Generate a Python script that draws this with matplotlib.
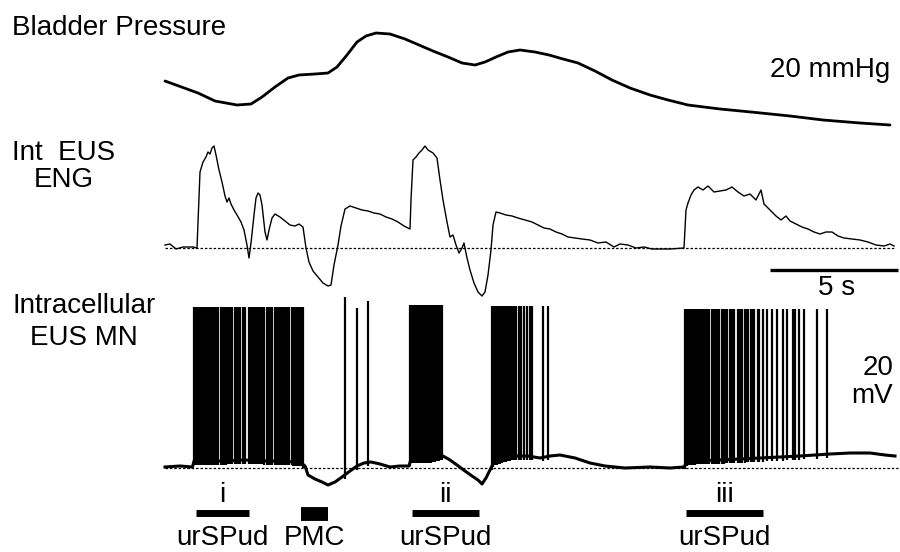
import matplotlib
matplotlib.use("Agg")
import matplotlib.pyplot as plt
import numpy as np
from matplotlib.transforms import blended_transform_factory

plt.rcParams['font.family'] = ['Liberation Sans', 'DejaVu Sans']

# ---- data (time in s) ----
bladder_t = [0, 1.32, 2.0, 2.88, 3.44, 3.88, 4.4, 4.92, 5.36, 6.0, 6.52, 6.88, 7.28, 7.68,
             8.04, 8.44, 9.0, 9.6, 10.16, 10.72, 11.32, 11.88, 12.4, 12.8, 13.24, 13.72,
             14.2, 14.8, 15.36, 15.92, 16.52, 17.2, 17.88, 18.6, 19.4, 20.12, 20.92, 22.2,
             23.44, 25.0, 26.32, 27.8, 29.0]
bladder_p = [22.6, 17.8, 14.6, 13.0, 13.4, 16.2, 20.2, 23.8, 25.0, 25.4, 25.8, 28.2, 33.0,
             38.2, 40.6, 41.8, 41.4, 39.4, 37.0, 34.6, 32.2, 29.8, 29.0, 30.2, 32.2, 34.2,
             35.0, 34.2, 33.0, 31.4, 29.8, 26.6, 23.0, 19.8, 17.0, 15.0, 13.0, 11.4,
             10.2, 8.6, 7.0, 5.8, 5.0]

eng_t = [0, 0.2, 0.44, 0.72, 1.12, 1.28, 1.4, 1.52, 1.64, 1.72, 1.8, 1.88, 1.96, 2.04, 2.16,
         2.28, 2.4, 2.48, 2.56, 2.64, 2.76, 2.88, 3.04, 3.16, 3.28, 3.36, 3.44, 3.56, 3.64,
         3.72, 3.8, 3.88, 4.0, 4.08, 4.16, 4.28, 4.4, 4.6, 4.8, 5.0, 5.2, 5.36, 5.52, 5.64,
         5.76, 5.92, 6.12, 6.32, 6.52, 6.64, 6.76, 6.92, 7.04, 7.2, 7.4, 7.64, 7.88, 8.12,
         8.36, 8.6, 8.84, 9.08, 9.32, 9.56, 9.8, 9.84, 9.92, 10.04, 10.16, 10.28, 10.4,
         10.52, 10.72, 10.88, 11.0, 11.12, 11.28, 11.4, 11.52, 11.64, 11.76, 11.88, 11.96,
         12.08, 12.2, 12.36, 12.52, 12.68, 12.8, 12.92, 13.04, 13.12, 13.24, 13.4, 13.64,
         13.88, 14.12, 14.4, 14.68, 14.92, 15.16, 15.4, 15.64, 15.88, 16.12, 16.4, 16.68,
         17.0, 17.32, 17.64, 17.96, 18.2, 18.52, 18.84, 19.16, 19.48, 19.8, 20.2, 20.76,
         20.84, 20.92, 21.04, 21.16, 21.32, 21.52, 21.72, 21.96, 22.2, 22.44, 22.68, 22.92,
         23.16, 23.4, 23.64, 23.84, 23.96, 24.2, 24.44, 24.64, 24.84, 25.0, 25.24, 25.48,
         25.72, 25.96, 26.2, 26.44, 26.68, 26.92, 27.16, 27.48, 27.8, 28.12, 28.44, 28.76,
         29.0, 29.16]
eng_v = [3, 4, -1, 1, 1, 0, 76, 86, 91, 96, 94, 100, 102, 93, 78,
         66, 52, 46, 50, 44, 38, 33, 26, 18, 3, -10, 5, 33, 50,
         55, 53, 43, 16, 8, 18, 30, 34, 31, 27, 23, 22, 24, 21, 0,
         -14, -23, -29, -35, -38, -37, -17, 3, 22, 39, 42, 40, 38, 37,
         35, 34, 31, 29, 26, 22, 19, 48, 88, 91, 95, 98, 102,
         98, 95, 90, 68, 48, 26, 11, 13, 3, -5, 0, 5,
         -10, -22, -35, -44, -48, -44, -27, -2, 23, 36, 35, 33,
         32, 30, 28, 26, 23, 20, 19, 16, 14, 11, 10, 9,
         8, 5, 6, 1, 4, 3, 0, 1, -1, -1, -1, 0,
         38, 45, 53, 58, 61, 58, 62, 56, 57, 58, 61, 56,
         52, 54, 48, 58, 44, 38, 32, 28, 32, 27, 24, 21,
         19, 16, 14, 16, 16, 12, 10, 9, 8, 6, 3, 2,
         4, 2]

vm_t = [0, 0.6, 1.1, 1.16, 2.2, 3.2, 4.2, 5.4, 5.6, 5.72, 6.0, 6.28, 6.52, 6.8, 7.08, 7.4,
        7.68, 7.96, 8.24, 8.6, 9.0, 9.4, 9.76, 9.84, 10.6, 11.12, 11.4, 11.68, 12.0, 12.28,
        12.52, 12.68, 12.84, 13.0, 13.16, 13.6, 14.0, 14.52, 15.0, 15.4, 15.8, 16.4, 17.0,
        17.6, 18.4, 19.4, 20.2, 20.76, 20.9, 22.2, 23.8, 25.4, 26.6, 27.4, 28.2, 28.8, 29.2]
vm_v = [-64.6, -64.2, -64.6, -62.2, -62.2, -61.8, -62.2, -62.6, -64.2, -67.8, -69.4, -70.6,
        -71.8, -70.6, -68.6, -66.2, -64.2, -63.0, -62.6, -63.4, -64.6, -64.2, -64.2, -61.4,
        -61.4, -60.2, -61.8, -63.8, -66.2, -68.2, -69.8, -71.4, -69.0, -65.8, -62.6, -61.0,
        -60.2, -60.2, -61.0, -60.2, -59.8, -61.0, -63.0, -64.2, -65.0, -64.6, -65.0, -64.6,
        -62.2, -61.8, -61.0, -60.2, -59.4, -59.0, -59.0, -59.8, -60.2]
vm_rest = -65.0

# spike times (s) and peak potentials (mV)
spikes_i = [1.16, 1.22, 1.27, 1.33, 1.38, 1.44, 1.49, 1.55, 1.60, 1.66, 1.71, 1.77, 1.82,
            1.88, 1.93, 1.99, 2.04, 2.10, 2.22, 2.27, 2.33, 2.38, 2.44, 2.49, 2.55, 2.60,
            2.66, 2.78, 2.84, 2.89, 2.95, 3.01, 3.13, 3.19, 3.34, 3.40, 3.45, 3.51, 3.56,
            3.62, 3.67, 3.73, 3.78, 3.84, 3.89, 3.95, 4.07, 4.12, 4.18, 4.23, 4.29, 4.40,
            4.46, 4.51, 4.57, 4.62, 4.68, 4.73, 4.79, 4.84, 4.90, 4.95, 5.07, 5.12, 5.18,
            5.24, 5.30, 5.36, 5.43, 5.50]
spikes_pmc = [7.2, 7.68, 8.12]
spikes_pmc_peak = [3.4, -1.0, 1.8]
spikes_ii_a = [9.80, 9.86, 9.91, 9.97, 10.02, 10.08, 10.13, 10.19, 10.24, 10.30, 10.35,
               10.41, 10.46, 10.52, 10.57, 10.63, 10.68, 10.74, 10.79, 10.85, 10.90, 10.96,
               11.02, 11.08]
spikes_ii_b = [13.07, 13.13, 13.20, 13.27, 13.33, 13.40, 13.47, 13.55, 13.63, 13.71, 13.79,
               13.87, 13.96, 14.05, 14.15, 14.24, 14.35, 14.47, 14.60, 14.67, 15.13, 15.33]
spikes_iii = [20.80, 20.86, 20.91, 20.97, 21.02, 21.08, 21.13, 21.19, 21.24, 21.30, 21.35,
              21.41, 21.46, 21.52, 21.57, 21.63, 21.68, 21.74, 21.86, 21.92, 21.97, 22.03,
              22.08, 22.14, 22.26, 22.32, 22.37, 22.43, 22.48, 22.60, 22.66, 22.71, 22.77,
              22.90, 22.96, 23.01, 23.07, 23.20, 23.26, 23.31, 23.44, 23.50, 23.56, 23.70,
              23.76, 23.92, 24.08, 24.28, 24.48, 24.72, 24.88, 25.12, 25.20, 25.36, 25.56,
              26.08, 26.48]
spike_peaks = {"i": -0.4, "ii_a": 0.2, "ii_b": 0.0, "iii": -1.2}

# stimulation periods (s)
stim_labels = ["i", "ii", "iii"]
stim_names = ["urSPud", "urSPud", "urSPud"]
stim_start = [1.24, 9.88, 20.84]
stim_end = [3.36, 12.56, 23.92]
pmc_start, pmc_end = 5.44, 6.52

# ---- layout (pixels of a 900x552 image) ----
W, H = 900, 552
px_per_s = 25.0
t0_px = 165


def fx(x):
    return x / W


def fy(y):
    return 1 - y / H


def trace_axes(fig, ref_px, ref_val, units_per_px):
    ax = fig.add_axes([0, 0, 1, 1])
    ax.set_xlim(-t0_px / px_per_s, (W - t0_px) / px_per_s)
    ax.set_ylim(ref_val - (H - ref_px) * units_per_px, ref_val + ref_px * units_per_px)
    ax.axis('off')
    ax.patch.set_alpha(0)
    return ax


fig = plt.figure(figsize=(9, 5.52), dpi=100)
fs = 20

# bladder pressure (mmHg)
ax_p = trace_axes(fig, 125, 5.0, 0.4)
ax_p.plot(bladder_t, bladder_p, color='black', lw=2.0, solid_capstyle='round')

# ENG (a.u.)
ax_e = trace_axes(fig, 248, 0.0, 1.0)
ax_e.plot([0, 29.2], [0, 0], color='black', lw=0.9, ls=(0, (2, 1.5)))
ax_e.plot(eng_t, eng_v, color='black', lw=1.0)
ax_e.plot([24.2, 29.3], [-22, -22], color='black', lw=2.4, solid_capstyle='butt')

# intracellular Vm (mV)
ax_v = trace_axes(fig, 468, vm_rest, 0.4)
ax_v.plot([0, 29.3], [vm_rest, vm_rest], color='black', lw=0.9, ls=(0, (2, 1.5)))
ax_v.plot(vm_t, vm_v, color='black', lw=2.2)
trains = [(spikes_i, spike_peaks["i"]), (spikes_ii_a, spike_peaks["ii_a"]),
          (spikes_ii_b, spike_peaks["ii_b"]), (spikes_iii, spike_peaks["iii"]),
          (spikes_pmc, spikes_pmc_peak)]
for times, peak in trains:
    base = np.interp(times, vm_t, vm_v) - 1.5
    ax_v.vlines(times, base, peak, color='black', lw=1.6)

# stimulus markers
tr = blended_transform_factory(ax_v.transData, fig.transFigure)
for lab, name, a, b in zip(stim_labels, stim_names, stim_start, stim_end):
    ax_v.plot([a, b], [fy(512.5)] * 2, color='black', lw=5, solid_capstyle='butt', transform=tr)
    ax_v.text((a + b) / 2, fy(502), lab, transform=tr, ha='center', va='baseline', fontsize=fs)
    ax_v.text((a + b) / 2, fy(545), name, transform=tr, ha='center', va='baseline', fontsize=fs)
ax_v.plot([pmc_start, pmc_end], [fy(513.5)] * 2, color='black', lw=10, solid_capstyle='butt',
          transform=tr)
ax_v.text((pmc_start + pmc_end) / 2, fy(545), "PMC", transform=tr, ha='center', va='baseline',
          fontsize=fs)

# labels
fig.text(fx(12), fy(35), "Bladder Pressure", fontsize=fs, va='baseline')
fig.text(fx(770), fy(77), "20 mmHg", fontsize=fs, va='baseline')
fig.text(fx(64), fy(160), "Int  EUS", fontsize=fs, va='baseline', ha='center')
fig.text(fx(64), fy(187), "ENG", fontsize=fs, va='baseline', ha='center')
fig.text(fx(837), fy(295), "5 s", fontsize=fs, va='baseline', ha='center')
fig.text(fx(84), fy(313), "Intracellular", fontsize=fs, va='baseline', ha='center')
fig.text(fx(84), fy(345), "EUS MN", fontsize=fs, va='baseline', ha='center')
fig.text(fx(893), fy(375), "20", fontsize=fs, va='baseline', ha='right')
fig.text(fx(893), fy(403), "mV", fontsize=fs, va='baseline', ha='right')

fig.savefig("out.png", dpi=100)
